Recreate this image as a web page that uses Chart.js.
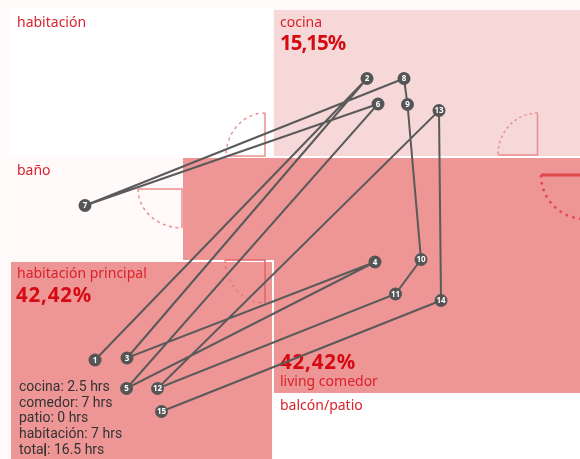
<!DOCTYPE html>
<html>
<head>
<meta charset="utf-8">
<style>
  html, body { margin: 0; padding: 0; background: #fffafa; }
  #wrap { width: 580px; height: 459px; }
</style>
</head>
<body>
<div id="wrap"><canvas id="plano"></canvas></div>
<script src="https://cdn.jsdelivr.net/npm/chart.js@4/dist/chart.umd.min.js"></script>
<script>
const paradas = ['1','2','3','4','5','6','7','8','9','10','11','12','13','14','15'];
const recorridoX = [95,367,127,375,126.5,378,85,404,407.5,421,395.5,157.5,439,441,161.5];
const recorridoY = [360,78.5,358,262,388.5,104,205.5,78.5,104.5,259.5,294,388.5,110.5,300.5,411.5];

const cuartos = [
  { fill: '#ffffff', puntos: [[9,8],[273,8],[273,157],[9,157]] },
  { fill: '#f6d8d8', puntos: [[274,10],[580,10],[580,156],[274,156]] },
  { fill: '#fff9f9', puntos: [[11,158],[183,158],[183,260],[11,260]] },
  { fill: '#ffffff', puntos: [[273,393],[580,393],[580,459],[273,459]] },
  { fill: '#ffffff', puntos: [[273,156],[580,156],[580,158],[273,158]] },
  { fill: '#ee9595', puntos: [[183,158],[580,158],[580,393],[274,393],[274,260],[183,260]] },
  { fill: '#ffffff', puntos: [[181,260],[273,260],[273,393],[272,393],[272,262],[181,262]] },
  { fill: '#ee9595', puntos: [[11,262],[272,262],[272,459],[11,459]] },
  // cursor de texto que quedo pegado en "total"
  { fill: '#333333', puntos: [[44.5,445],[46,445],[46,456],[44.5,456]] }
];

// centro, punta de la hoja, otra punta del arco
const puertas = [
  { c: [265,156], a: [265,113], b: [226,156], color: '#ea8f8f', ancho: 1.5, guion: [3,3.5], arco: 1.5 },
  { c: [182,189], a: [138,189], b: [182,228], color: '#ea8f8f', ancho: 1.5, guion: [3,3.5], arco: 1.5 },
  { c: [537.5,155], a: [537.5,113], b: [498,155], color: '#ea8f8f', ancho: 1.5, guion: [2.5,3], arco: 1.5 },
  { c: [585,175], a: [541,175], b: [585,219], color: '#e0474c', ancho: 3, guion: [2.5,4.5], arco: 2.5 },
  { c: [265,260], a: [225,260], b: [265,303], color: '#e0666a', ancho: 1.5, guion: [3,3.5], arco: 1 }
];

const textos = [
  { t: 'habitación', x: 17, y: 27, font: '14px "Noto Sans"', color: '#d9232b' },
  { t: 'cocina', x: 280, y: 27, font: '14px "Noto Sans"', color: '#d9232b' },
  { t: '15,15%', x: 280, y: 50, font: 'bold 20.5px "Noto Sans"', color: '#d40b12', esp: '-1px' },
  { t: 'baño', x: 17, y: 175, font: '14px "Noto Sans"', color: '#d9232b' },
  { t: 'habitación principal', x: 17, y: 278, font: '14px "Noto Sans"', color: '#d9232b' },
  { t: '42,42%', x: 16, y: 302, font: 'bold 20.5px "Noto Sans"', color: '#d40b12', esp: '0.8px' },
  { t: '42,42%', x: 280, y: 369, font: 'bold 20.5px "Noto Sans"', color: '#d40b12', esp: '0.8px' },
  { t: 'living comedor', x: 280, y: 386, font: '14px "Noto Sans"', color: '#d9232b' },
  { t: 'balcón/patio', x: 280, y: 410, font: '14px "Noto Sans"', color: '#d9232b' },
  { t: 'cocina: 2.5 hrs', x: 19, y: 390.5, font: '14px Roboto', color: '#333333' },
  { t: 'comedor: 7 hrs', x: 19, y: 406.5, font: '14px Roboto', color: '#333333' },
  { t: 'patio: 0 hrs', x: 19, y: 422, font: '14px Roboto', color: '#333333' },
  { t: 'habitación: 7 hrs', x: 19, y: 438, font: '14px Roboto', color: '#333333' },
  { t: 'total: 16.5 hrs', x: 19, y: 454, font: '14px Roboto', color: '#333333' }
];

const planoPlugin = {
  id: 'plano',
  beforeDatasetsDraw(chart) {
    const ctx = chart.ctx;
    const sx = chart.scales.x, sy = chart.scales.y;
    ctx.save();
    cuartos.forEach(function (c) {
      ctx.fillStyle = c.fill;
      ctx.beginPath();
      c.puntos.forEach(function (p, i) {
        const px = sx.getPixelForValue(p[0]), py = sy.getPixelForValue(p[1]);
        if (i == 0) ctx.moveTo(px, py); else ctx.lineTo(px, py);
      });
      ctx.closePath();
      ctx.fill();
    });
    puertas.forEach(function (d) {
      const cx = sx.getPixelForValue(d.c[0]), cy = sy.getPixelForValue(d.c[1]);
      const ax = sx.getPixelForValue(d.a[0]), ay = sy.getPixelForValue(d.a[1]);
      const bx = sx.getPixelForValue(d.b[0]), by = sy.getPixelForValue(d.b[1]);
      ctx.strokeStyle = d.color;
      ctx.lineWidth = d.ancho;
      ctx.setLineDash([]);
      ctx.beginPath();
      ctx.moveTo(ax, ay); ctx.lineTo(cx, cy); ctx.lineTo(bx, by);
      ctx.stroke();
      // cuarto de elipse entre las dos puntas, por el lado corto
      const rx = Math.max(Math.abs(ax - cx), Math.abs(bx - cx));
      const ry = Math.max(Math.abs(ay - cy), Math.abs(by - cy));
      const a1 = Math.atan2((ay - cy) / ry, (ax - cx) / rx);
      const a2 = Math.atan2((by - cy) / ry, (bx - cx) / rx);
      const giro = ((a2 - a1) % (2 * Math.PI) + 2 * Math.PI) % (2 * Math.PI);
      ctx.lineWidth = d.arco;
      ctx.setLineDash(d.guion);
      ctx.beginPath();
      ctx.ellipse(cx, cy, rx, ry, 0, a1, a2, giro > Math.PI);
      ctx.stroke();
    });
    ctx.setLineDash([]);
    ctx.textBaseline = 'alphabetic';
    ctx.textAlign = 'left';
    textos.forEach(function (t) {
      ctx.font = t.font;
      ctx.letterSpacing = t.esp || '0px';
      ctx.fillStyle = t.color;
      ctx.fillText(t.t, t.x, t.y);
    });
    ctx.restore();
  },
  afterDatasetsDraw(chart) {
    const ctx = chart.ctx;
    const meta = chart.getDatasetMeta(0);
    ctx.save();
    ctx.font = 'bold 8px "Noto Sans"';
    ctx.fillStyle = '#ffffff';
    ctx.textAlign = 'center';
    ctx.textBaseline = 'middle';
    meta.data.forEach(function (el, i) {
      ctx.fillText(paradas[i], el.x, el.y + 0.5);
    });
    ctx.restore();
  }
};

new Chart(document.getElementById('plano'), {
  type: 'line',
  data: {
    labels: paradas,
    datasets: [{
      data: paradas.map(function (p, i) { return { x: recorridoX[i], y: recorridoY[i] }; }),
      borderColor: '#5a5a5a',
      borderWidth: 2,
      tension: 0,
      fill: false,
      pointRadius: 6.5,
      pointBorderWidth: 0,
      pointBackgroundColor: '#555555'
    }]
  },
  options: {
    responsive: true,
    maintainAspectRatio: false,
    animation: false,
    layout: { padding: 0, autoPadding: false },
    plugins: { legend: { display: false }, tooltip: { enabled: false } },
    scales: {
      x: { type: 'linear', display: false, min: 0, max: 580 },
      y: { type: 'linear', display: false, min: 0, max: 459, reverse: true }
    }
  },
  plugins: [planoPlugin]
});
</script>
</body>
</html>
